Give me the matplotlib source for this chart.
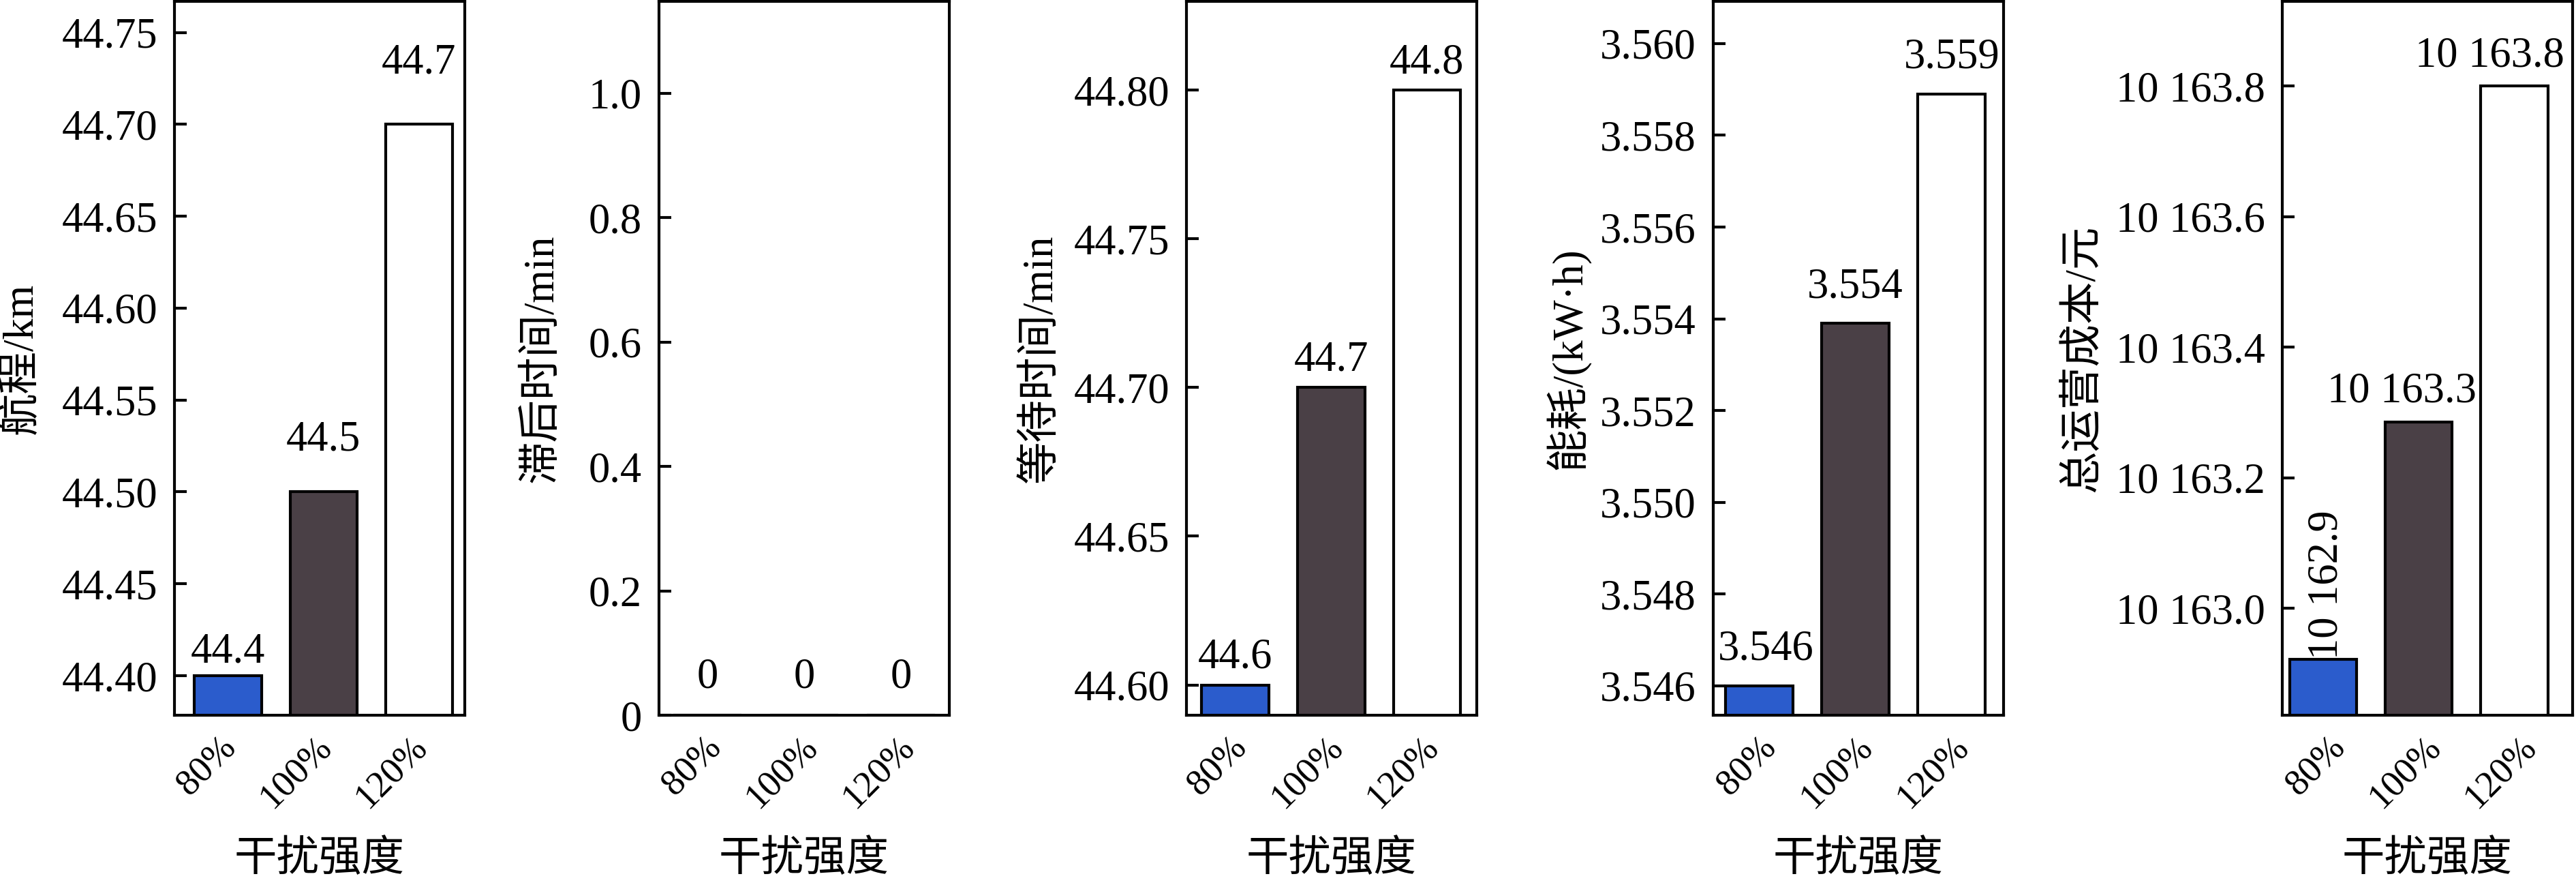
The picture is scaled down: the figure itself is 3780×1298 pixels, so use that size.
import numpy as np
import matplotlib.pyplot as plt
from matplotlib.transforms import ScaledTranslation

plt.rcParams['font.family'] = ['Liberation Serif', 'Noto Sans CJK SC']
plt.rcParams['font.size'] = 15
plt.rcParams['axes.linewidth'] = 1.0

# 数据
categories = ['80%', '100%', '120%']
range_km = [44.4, 44.5, 44.7]
delay_min = [0, 0, 0]
wait_min = [44.6, 44.7, 44.8]
energy_kwh = [3.546, 3.5539, 3.5589]
cost_yuan = [10162.922, 10163.2855, 10163.8]

ylabels = ['航程/km', '滞后时间/min', '等待时间/min', '能耗/(kW·h)', '总运营成本/元']
xlabel = '干扰强度'

yticks_1 = [44.40, 44.45, 44.50, 44.55, 44.60, 44.65, 44.70, 44.75]
yticks_2 = [0, 0.2, 0.4, 0.6, 0.8, 1.0]
yticks_3 = [44.60, 44.65, 44.70, 44.75, 44.80]
yticks_4 = [3.546, 3.548, 3.550, 3.552, 3.554, 3.556, 3.558, 3.560]
yticks_5 = [10163.0, 10163.2, 10163.4, 10163.6, 10163.8]

ytlabels_1 = ['%.2f' % v for v in yticks_1]
ytlabels_2 = ['0', '0.2', '0.4', '0.6', '0.8', '1.0']
ytlabels_3 = ['%.2f' % v for v in yticks_3]
ytlabels_4 = ['%.3f' % v for v in yticks_4]
ytlabels_5 = [f'{v:,.1f}'.replace(',', ' ') for v in yticks_5]

colors = ['#2b5ccc', '#4a4046', '#ffffff']

# 画布布局 (像素 -> 比例)
W, H = 3780, 1298
DPI = 300
fig = plt.figure(figsize=(W / DPI, H / DPI), dpi=DPI)
px = 72 / DPI  # 像素 -> 磅

lefts = [256, 967, 1741, 2514, 3349]
ax_w = 426
ax_bottom, ax_top = 1049, 2
xlims = [(-0.56, 2.48), (-0.5, 2.5), (-0.51, 2.52), (-0.475, 2.54), (-0.43, 2.61)]
ylims = [(44.3785, 44.7669), (0, 1.1475), (44.5898, 44.8298),
         (3.54536, 3.56092), (10162.836, 10163.93)]
ylabel_x = [-0.527, -0.403, -0.501, -0.501, -0.686]
xtick_dx = [22, 30, 27, 35, 42]          # 像素
label_dy = [[35, 76, 90], [56] * 3, [40] * 3, [53] * 3, [0, 44, 44]]
label_dx = [[0] * 3, [0] * 3, [0] * 3, [10, 0, 0], [5, -25, -36]]

series = [range_km, delay_min, wait_min, energy_kwh, cost_yuan]
texts = [
    ['%.1f' % v for v in range_km],
    ['%g' % v for v in delay_min],
    ['%.1f' % v for v in wait_min],
    ['%.3f' % v for v in energy_kwh],
    [f'{v:,.1f}'.replace(',', ' ') for v in cost_yuan],
]
yticks = [yticks_1, yticks_2, yticks_3, yticks_4, yticks_5]
ytlabels = [ytlabels_1, ytlabels_2, ytlabels_3, ytlabels_4, ytlabels_5]

x = np.arange(len(categories))
for i in range(5):
    ax = fig.add_axes([lefts[i] / W, 1 - ax_bottom / H, ax_w / W, (ax_bottom - ax_top) / H])
    ax.bar(x, series[i], width=0.7, color=colors, edgecolor='black', linewidth=1.0)
    ax.set_xlim(*xlims[i])
    ax.set_ylim(*ylims[i])
    ax.set_yticks(yticks[i], ytlabels[i])
    ax.set_xticks(x, categories)
    ax.tick_params(axis='y', direction='in', length=4.3, width=1.0, pad=6)
    ax.tick_params(axis='x', length=0, pad=5, labelsize=13)
    shift = ScaledTranslation(xtick_dx[i] / DPI, 0, fig.dpi_scale_trans)
    for lab in ax.get_xticklabels():
        lab.set_rotation(45)
        lab.set_ha('right')
        lab.set_transform(lab.get_transform() + shift)

    for j, (h, t) in enumerate(zip(series[i], texts[i])):
        if i == 4 and j == 0:
            ax.annotate(t, (x[j], h), xytext=(label_dx[i][j] * px, 0),
                        textcoords='offset points', ha='center', va='bottom',
                        rotation=90)
        else:
            ax.annotate(t, (x[j], h),
                        xytext=(label_dx[i][j] * px, label_dy[i][j] * px),
                        textcoords='offset points', ha='center', va='center')

    ax.set_ylabel(ylabels[i])
    ax.yaxis.set_label_coords(ylabel_x[i], 0.5)
    ax.yaxis.label.set_va('center')
    ax.set_xlabel(xlabel)
    ax.xaxis.set_label_coords(0.5, -0.2035)
    ax.xaxis.label.set_va('center')

plt.savefig('out.png', dpi=DPI)
